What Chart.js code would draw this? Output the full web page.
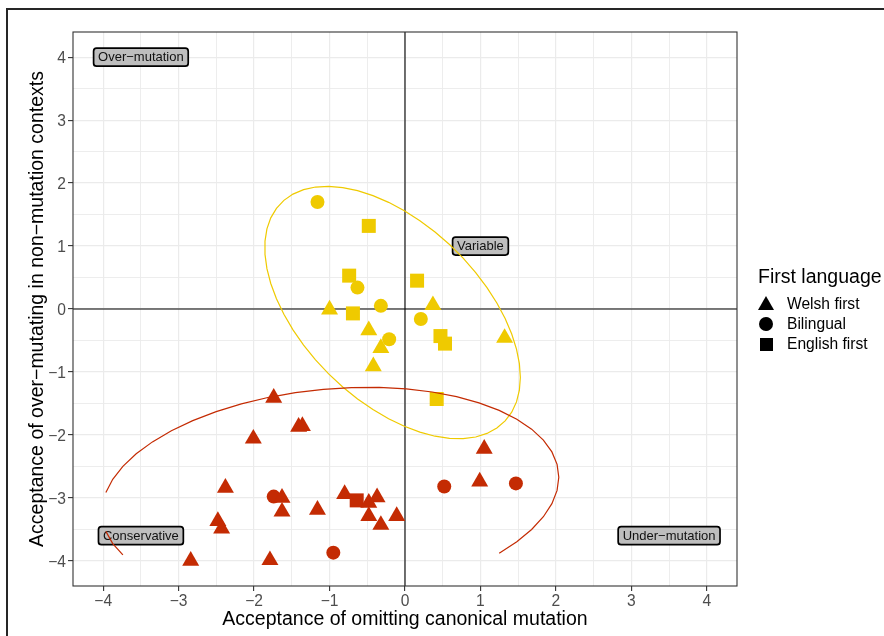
<!DOCTYPE html>
<html>
<head>
<meta charset="utf-8">
<script src="https://cdn.jsdelivr.net/npm/chart.js@4.4.1/dist/chart.umd.min.js"></script>
<style>
html,body{margin:0;padding:0;background:#fff;}
#wrap{position:relative;width:884px;height:636px;overflow:hidden;font-family:"Liberation Sans",Arial,Helvetica,sans-serif;}
#c{position:absolute;left:0;top:0;}
#frame{position:absolute;left:6px;top:8px;width:1000px;height:1000px;border-top:2px solid #262626;border-left:2px solid #262626;pointer-events:none;}
.lg{position:absolute;white-space:nowrap;color:#000;line-height:1;}
</style>
</head>
<body>
<div id="wrap">
<canvas id="c" width="884" height="636"></canvas>
<div id="frame"></div>
<div id="legend"></div>
</div>
<script>
// ---------------- data ----------------
// Conservative cluster (red)
const conservativeWelshX = [-1.74,-1.41,-1.36,-2.01,-2.38,-1.63,-1.63,-1.16,-2.48,-2.43,-2.84,-1.79,-0.80,-0.48,-0.37,-0.48,-0.32,-0.11,0.99,1.05];
const conservativeWelshY = [-1.41,-1.87,-1.86,-2.06,-2.84,-3.00,-3.22,-3.19,-3.37,-3.49,-4.00,-3.99,-2.94,-3.08,-2.99,-3.29,-3.43,-3.29,-2.74,-2.22];
const conservativeBilingualX = [-1.74,-0.95,0.52,1.47];
const conservativeBilingualY = [-2.98,-3.87,-2.82,-2.77];
const conservativeEnglishX = [-0.64];
const conservativeEnglishY = [-3.04];
// Variable cluster (yellow)
const variableWelshX = [-1.00,-0.48,-0.32,-0.42,0.37,1.32];
const variableWelshY = [-0.01,-0.34,-0.62,-0.91,0.06,-0.46];
const variableBilingualX = [-1.16,-0.63,-0.32,-0.21,0.21];
const variableBilingualY = [1.70,0.34,0.05,-0.48,-0.16];
const variableEnglishX = [-0.48,-0.74,-0.69,0.16,0.47,0.53,0.42];
const variableEnglishY = [1.32,0.53,-0.07,0.45,-0.43,-0.55,-1.43];

const xTickValues = [-4,-3,-2,-1,0,1,2,3,4];
const xTickLabels = ['\u22124','\u22123','\u22122','\u22121','0','1','2','3','4'];
const yTickValues = [-4,-3,-2,-1,0,1,2,3,4];
const yTickLabels = ['\u22124','\u22123','\u22122','\u22121','0','1','2','3','4'];
const minorBreaks = [-3.5,-2.5,-1.5,-0.5,0.5,1.5,2.5,3.5];
const scaleLimits = [-4,4];

const regionLabels = ['Over\u2212mutation','Variable','Conservative','Under\u2212mutation'];
const regionLabelX = [-3.5,1.0,-3.5,3.5];
const regionLabelY = [4.0,1.0,-3.6,-3.6];

const legendTitle = 'First language';
const legendLabels = ['Welsh first','Bilingual','English first'];

const xTitle = 'Acceptance of omitting canonical mutation';
const yTitle = 'Acceptance of over\u2212mutating in non\u2212mutation contexts';

// ---------------- styling ----------------
const RED = '#C42B03';
const YELLOW = '#EFCA00';
const FONT = '"Liberation Sans", Arial, Helvetica, sans-serif';

// ---------------- stat_ellipse (type "norm", level 0.95) ----------------
function covWt(xs, ys) {
  const n = xs.length;
  const mx = xs.reduce((a, b) => a + b, 0) / n;
  const my = ys.reduce((a, b) => a + b, 0) / n;
  let s11 = 0, s12 = 0, s22 = 0;
  for (let i = 0; i < n; i++) {
    const dx = xs[i] - mx, dy = ys[i] - my;
    s11 += dx * dx; s12 += dx * dy; s22 += dy * dy;
  }
  return { center: [mx, my], cov: [s11 / (n - 1), s12 / (n - 1), s22 / (n - 1)] };
}
function ellipsePath(xs, ys, level = 0.95, segments = 51) {
  const { center, cov } = covWt(xs, ys);
  const d = xs.length - 1;
  const qf = (d / 2) * (Math.pow(1 - level, -2 / d) - 1);
  const radius = Math.sqrt(2 * qf);
  const r11 = Math.sqrt(cov[0]), r12 = cov[1] / r11, r22 = Math.sqrt(cov[2] - r12 * r12);
  const out = [];
  for (let k = 0; k <= segments; k++) {
    const t = k * 2 * Math.PI / segments;
    const ex = center[0] + radius * (Math.cos(t) * r11);
    const ey = center[1] + radius * (Math.cos(t) * r12 + Math.sin(t) * r22);
    const inside = ex >= scaleLimits[0] && ex <= scaleLimits[1] && ey >= scaleLimits[0] && ey <= scaleLimits[1];
    out.push(inside ? { x: ex, y: ey } : { x: null, y: null });
  }
  return out;
}
const zip = (xs, ys) => xs.map((v, i) => ({ x: v, y: ys[i] }));

const consAllX = conservativeWelshX.concat(conservativeBilingualX, conservativeEnglishX);
const consAllY = conservativeWelshY.concat(conservativeBilingualY, conservativeEnglishY);
const varAllX = variableWelshX.concat(variableBilingualX, variableEnglishX);
const varAllY = variableWelshY.concat(variableBilingualY, variableEnglishY);

// ---------------- plugins ----------------
const decorPlugin = {
  id: 'decor',
  beforeDatasetsDraw(chart) {
    const { ctx, chartArea: a, scales: { x, y } } = chart;
    ctx.save();
    ctx.beginPath();
    ctx.rect(a.left, a.top, a.width, a.height);
    ctx.clip();
    ctx.strokeStyle = '#000';
    ctx.lineWidth = 1.1;
    const x0 = x.getPixelForValue(0), y0 = y.getPixelForValue(0);
    ctx.beginPath(); ctx.moveTo(a.left, y0); ctx.lineTo(a.right, y0); ctx.stroke();
    ctx.beginPath(); ctx.moveTo(x0, a.top); ctx.lineTo(x0, a.bottom); ctx.stroke();
    // region labels
    ctx.font = '13px ' + FONT;
    ctx.textAlign = 'center';
    ctx.textBaseline = 'middle';
    regionLabels.forEach((t, i) => {
      const cx = x.getPixelForValue(regionLabelX[i]);
      const cy = y.getPixelForValue(regionLabelY[i]);
      const tw = ctx.measureText(t).width;
      const bw = tw + 9, bh = 18, r = 3;
      const bx = cx - bw / 2, by = cy - bh / 2;
      ctx.beginPath();
      ctx.moveTo(bx + r, by);
      ctx.arcTo(bx + bw, by, bx + bw, by + bh, r);
      ctx.arcTo(bx + bw, by + bh, bx, by + bh, r);
      ctx.arcTo(bx, by + bh, bx, by, r);
      ctx.arcTo(bx, by, bx + bw, by, r);
      ctx.closePath();
      ctx.fillStyle = '#BEBEBE';
      ctx.fill();
      ctx.lineWidth = 1.7;
      ctx.strokeStyle = '#000';
      ctx.stroke();
      ctx.fillStyle = '#111';
      ctx.fillText(t, cx, cy + 0.5);
    });
    ctx.restore();
  },
  afterDraw(chart) {
    const { ctx, chartArea: a } = chart;
    ctx.save();
    ctx.strokeStyle = '#333';
    ctx.lineWidth = 1.1;
    ctx.strokeRect(a.left, a.top, a.width, a.height);
    ctx.restore();
  }
};

const allBreaks = xTickValues.concat(minorBreaks).sort((a, b) => a - b);
const isMajor = v => xTickValues.indexOf(v) >= 0;

function axisOpts(tickValues, tickLabels, title, isX) {
  return {
    type: 'linear',
    min: -4.4, max: 4.4,
    afterBuildTicks: s => { s.ticks = allBreaks.map(v => ({ value: v })); },
    afterFit: s => { if (isX) s.height = 50; else s.width = 73; },
    ticks: {
      autoSkip: false, maxRotation: 0,
      padding: isX ? 1 : 2,
      labelOffset: isX ? 0 : 1.5,
      color: '#4D4D4D',
      font: { family: FONT, size: 15.6 },
      callback: v => { const i = tickValues.indexOf(v); return i >= 0 ? tickLabels[i] : ''; }
    },
    grid: {
      color: '#EBEBEB',
      lineWidth: c => (c.tick && isMajor(c.tick.value)) ? 1.2 : 0.9,
      tickColor: c => (c.tick && isMajor(c.tick.value)) ? '#333' : 'rgba(0,0,0,0)',
      tickLength: 5, tickWidth: 1.1
    },
    border: { display: false },
    title: {
      display: true, text: title, color: '#000',
      font: { family: FONT, size: 19.5 },
      padding: isX ? { top: 0, bottom: 4.5 } : { top: 26, bottom: 0 }
    }
  };
}

Chart.defaults.font.family = FONT;
new Chart(document.getElementById('c'), {
  type: 'scatter',
  data: {
    datasets: [
      { label: 'Conservative ellipse', data: ellipsePath(consAllX, consAllY), showLine: true, pointRadius: 0, borderColor: RED, borderWidth: 1.2, spanGaps: false, tension: 0, order: 0 },
      { label: 'Variable ellipse', data: ellipsePath(varAllX, varAllY), showLine: true, pointRadius: 0, borderColor: YELLOW, borderWidth: 1.2, spanGaps: false, tension: 0, order: 0 },
      { label: 'Conservative Welsh first', data: zip(conservativeWelshX, conservativeWelshY), pointStyle: 'triangle', pointRadius: 9.8, backgroundColor: RED, borderWidth: 0, order: 1 },
      { label: 'Conservative Bilingual', data: zip(conservativeBilingualX, conservativeBilingualY), pointStyle: 'circle', pointRadius: 7, backgroundColor: RED, borderWidth: 0, order: 1 },
      { label: 'Conservative English first', data: zip(conservativeEnglishX, conservativeEnglishY), pointStyle: 'rect', pointRadius: 9.9, backgroundColor: RED, borderWidth: 0, order: 1 },
      { label: 'Variable Welsh first', data: zip(variableWelshX, variableWelshY), pointStyle: 'triangle', pointRadius: 9.8, backgroundColor: YELLOW, borderWidth: 0, order: 1 },
      { label: 'Variable Bilingual', data: zip(variableBilingualX, variableBilingualY), pointStyle: 'circle', pointRadius: 7, backgroundColor: YELLOW, borderWidth: 0, order: 1 },
      { label: 'Variable English first', data: zip(variableEnglishX, variableEnglishY), pointStyle: 'rect', pointRadius: 9.9, backgroundColor: YELLOW, borderWidth: 0, order: 1 }
    ]
  },
  options: {
    responsive: false, animation: false, devicePixelRatio: 1, events: [],
    layout: { padding: { left: 0, top: 32, right: 147, bottom: 0 } },
    plugins: { legend: { display: false }, tooltip: { enabled: false } },
    scales: {
      x: axisOpts(xTickValues, xTickLabels, xTitle, true),
      y: axisOpts(yTickValues, yTickLabels, yTitle, false)
    }
  },
  plugins: [decorPlugin]
});

// ---------------- legend (HTML) ----------------
(function () {
  const lg = document.getElementById('legend');
  const t = document.createElement('div');
  t.className = 'lg';
  t.style.cssText = 'left:758px;top:267px;font-size:19.5px;';
  t.textContent = legendTitle;
  lg.appendChild(t);
  const shapes = ['triangle', 'circle', 'square'];
  const rowsY = [303.5, 324, 344];
  legendLabels.forEach((label, i) => {
    const cy = rowsY[i];
    const s = document.createElement('div');
    s.style.position = 'absolute';
    if (shapes[i] === 'triangle') {
      s.style.cssText += 'left:' + (766 - 8.5) + 'px;top:' + (cy - 7.5) + 'px;width:0;height:0;border-left:8.5px solid transparent;border-right:8.5px solid transparent;border-bottom:14.7px solid #000;';
    } else if (shapes[i] === 'circle') {
      s.style.cssText += 'left:' + (766 - 7) + 'px;top:' + (cy - 7) + 'px;width:14px;height:14px;border-radius:50%;background:#000;';
    } else {
      s.style.cssText += 'left:' + (766 - 6.5) + 'px;top:' + (cy - 6.5) + 'px;width:13px;height:13px;background:#000;';
    }
    lg.appendChild(s);
    const tx = document.createElement('div');
    tx.className = 'lg';
    tx.style.cssText = 'left:787px;top:' + (cy - 8) + 'px;font-size:15.6px;';
    tx.textContent = label;
    lg.appendChild(tx);
  });
})();
</script>
</body>
</html>
